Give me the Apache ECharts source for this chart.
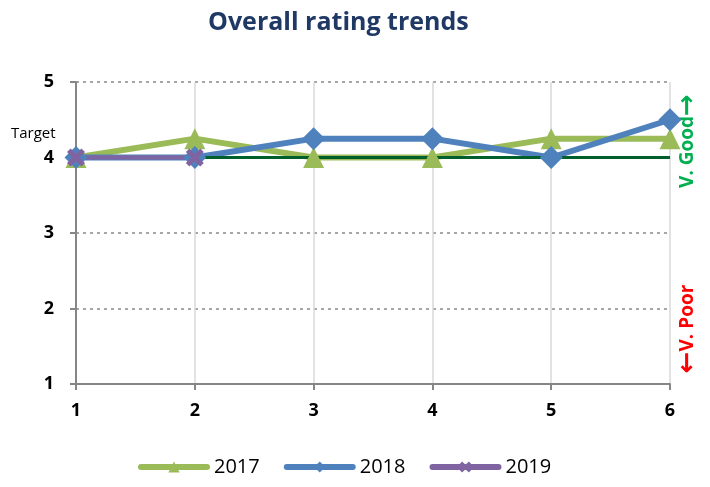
<!DOCTYPE html>
<html>
<head>
<meta charset="utf-8">
<script src="https://cdn.jsdelivr.net/npm/echarts@6/dist/echarts.min.js"></script>
<style>
  html, body { margin: 0; padding: 0; background: #fff; }
  #chart { width: 710px; height: 487px; }
</style>
</head>
<body>
<div id="chart"></div>
<script>
// chart data
var categories = ["1", "2", "3", "4", "5", "6"];
var data2017 = [4, 4.25, 4, 4, 4.25, 4.25];
var data2018 = [4, 4, 4.25, 4.25, 4, 4.5];
var data2019 = [4, 4];
var targetData = [4, 4, 4, 4, 4, 4];
var yTicks = [1, 2, 3, 4, 5];

var FONT = "'Open Sans', 'Noto Sans', sans-serif";
var crossPath = "path://M0,2L2,0L5,3L8,0L10,2L7,5L10,8L8,10L5,7L2,10L0,8L3,5Z";

var chart = echarts.init(document.getElementById("chart"));
chart.setOption({
  animation: false,
  title: {
    text: "Overall rating trends",
    left: 203,
    top: 5,
    textStyle: { fontFamily: FONT, fontSize: 25, fontWeight: "bold", color: "#1f3864" }
  },
  grid: { left: 76, right: 40, top: 82, bottom: 103 },
  legend: {
    bottom: 5,
    left: 133,
    itemWidth: 66,
    itemHeight: 14,
    itemGap: 24,
    data: ["2017", "2018", "2019"],
    lineStyle: { width: 6, cap: "round" },
    textStyle: { fontFamily: FONT, fontSize: 20, color: "#000", padding: [0, 0, 0, 2] }
  },
  xAxis: {
    type: "category",
    data: categories,
    boundaryGap: false,
    axisLine: { lineStyle: { color: "#868686", width: 2 } },
    axisTick: { show: true, length: 6, alignWithLabel: true, lineStyle: { color: "#868686", width: 2 } },
    axisLabel: { margin: 18, fontFamily: FONT, fontSize: 18, fontWeight: "bold", color: "#000" },
    splitLine: { show: true, lineStyle: { color: "#d9d9d9", width: 1.5 } }
  },
  yAxis: {
    type: "value",
    min: yTicks[0],
    max: yTicks[yTicks.length - 1],
    interval: 1,
    axisLine: { show: true, lineStyle: { color: "#868686", width: 2 } },
    axisTick: { show: true, length: 6, lineStyle: { color: "#868686", width: 2 } },
    axisLabel: { margin: 22, fontFamily: FONT, fontSize: 18, fontWeight: "bold", color: "#000" },
    splitLine: { show: true, lineStyle: { color: "#a6a6a6", type: [3, 4], width: 2 } }
  },
  graphic: [
    {
      type: "text", left: 11, top: 126,
      style: { text: "Target", font: "15px " + FONT, fill: "#000" }
    },
    {
      type: "text", x: 688, y: 141, rotation: Math.PI / 2,
      style: {
        text: "{t|V. Good}{a|\u2192}",
        align: "center", verticalAlign: "middle",
        rich: {
          t: { fontFamily: FONT, fontSize: 19, fontWeight: "bold", fill: "#00b050", color: "#00b050" },
          a: { fontFamily: "DejaVu Sans", fontSize: 26, fontWeight: "bold", fill: "#00b050", color: "#00b050" }
        }
      }
    },
    {
      type: "text", x: 688, y: 329, rotation: Math.PI / 2,
      style: {
        text: "{a|\u2190}{t|V. Poor}",
        align: "center", verticalAlign: "middle",
        rich: {
          t: { fontFamily: FONT, fontSize: 19, fontWeight: "bold", fill: "#ff0000", color: "#ff0000" },
          a: { fontFamily: "DejaVu Sans", fontSize: 26, fontWeight: "bold", fill: "#ff0000", color: "#ff0000" }
        }
      }
    }
  ],
  series: [
    {
      name: "2017", type: "line", data: data2017,
      symbol: "triangle", symbolSize: 21,
      lineStyle: { color: "#9bbb59", width: 6 },
      itemStyle: { color: "#9bbb59" }
    },
    {
      name: "2018", type: "line", data: data2018,
      symbol: "diamond", symbolSize: 23,
      lineStyle: { color: "#4f81bd", width: 6 },
      itemStyle: { color: "#4f81bd" }
    },
    {
      name: "Target", type: "line", data: targetData,
      symbol: "none",
      lineStyle: { color: "#00602b", width: 3 },
      itemStyle: { color: "#00602b" }
    },
    {
      name: "2019", type: "line", data: data2019,
      symbol: crossPath, symbolSize: 18,
      lineStyle: { color: "#8064a2", width: 4 },
      itemStyle: { color: "#8064a2" }
    }
  ]
});
</script>
</body>
</html>
